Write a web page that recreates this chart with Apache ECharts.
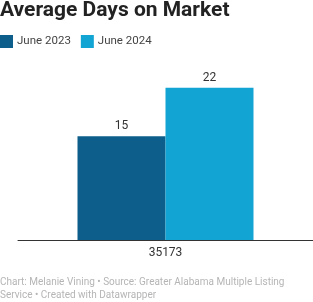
<!DOCTYPE html>
<html>
<head>
<meta charset="utf-8">
<script src="https://cdn.jsdelivr.net/npm/echarts@6/dist/echarts.min.js"></script>
<style>
  html, body { margin: 0; padding: 0; background: #fff; }
  #chart { width: 313px; height: 302px; }
</style>
</head>
<body>
<div id="chart"></div>
<script>
const categories = ["35173"];
const seriesNames = ["June 2023", "June 2024"];
const june2023 = [15];
const june2024 = [22];
const colors = ["#0d5e8a", "#12a4d3"];

const chart = echarts.init(document.getElementById("chart"));
chart.setOption({
  animation: false,
  color: colors,
  textStyle: { fontFamily: "Roboto" },
  title: {
    text: "Average Days on Market",
    left: 0,
    top: 0,
    padding: 0,
    textStyle: { fontSize: 21, fontWeight: "bold", color: "#222", fontFamily: "Roboto" }
  },
  legend: {
    left: 0,
    top: 35,
    padding: 0,
    itemWidth: 13,
    itemHeight: 13,
    itemGap: 10,
    icon: "rect",
    textStyle: { fontSize: 11.5, color: "#444", padding: [0, 0, 0, -1] },
    data: seriesNames
  },
  grid: { left: 18, right: 0, top: 60, bottom: 62, containLabel: false },
  xAxis: {
    type: "category",
    data: categories,
    axisLine: { lineStyle: { color: "#333", width: 1 } },
    axisTick: { show: false },
    axisLabel: { fontSize: 12, color: "#333", margin: 7 }
  },
  yAxis: {
    type: "value",
    min: 0,
    max: 26,
    show: false,
    splitLine: { show: false }
  },
  series: [
    {
      name: seriesNames[0],
      type: "bar",
      data: june2023,
      barWidth: 88,
      barGap: "0%",
      label: { show: true, position: "top", fontSize: 12, color: "#333", distance: 4 }
    },
    {
      name: seriesNames[1],
      type: "bar",
      data: june2024,
      barWidth: 88,
      label: { show: true, position: "top", fontSize: 12, color: "#333", distance: 4 }
    }
  ],
  graphic: [
    {
      type: "text",
      left: 0,
      top: 276,
      style: {
        text: "Chart: Melanie Vining • Source: Greater Alabama Multiple Listing\nService • Created with Datawrapper",
        fontSize: 10,
        lineHeight: 13,
        fill: "#b5b5b5",
        fontFamily: "Roboto"
      }
    }
  ]
});
</script>
</body>
</html>
